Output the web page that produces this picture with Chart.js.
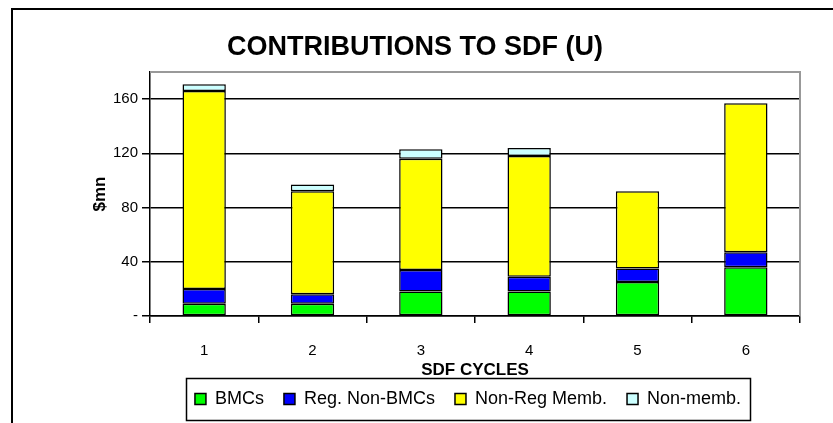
<!DOCTYPE html>
<html>
<head>
<meta charset="utf-8">
<script src="https://cdn.jsdelivr.net/npm/chart.js@4.4.0/dist/chart.umd.min.js"></script>
<style>
  html, body { margin: 0; padding: 0; background: #fff; }
  #wrap { position: relative; width: 833px; height: 423px; }
</style>
</head>
<body>
<div id="wrap"><canvas id="c" width="833" height="423"></canvas></div>
<script>
// ---- data ----
const cycles = ['1', '2', '3', '4', '5', '6'];
const bmcs = [9, 9, 18, 18, 25, 36];
const regNonBmcs = [11, 7, 16, 11, 10, 11];
const nonRegMemb = [146, 76, 82, 89, 57, 110];
const nonMemb = [5, 5, 7, 6, null, null];
const yTicks = [0, 40, 80, 120, 160, 180];

const FONT = "'Liberation Sans', Arial, sans-serif";
const LEGEND_FONT = 18;
const LEGEND_PAD = 20;

const framePlugin = {
  id: 'frame',
  afterLayout(chart) {
    const lg = chart.legend;
    if (lg) {
      lg.left = 168; lg.right = 768;
      lg.top = 399 - LEGEND_FONT / 2 - LEGEND_PAD;
    }
    const tb = chart.titleBlock;
    if (tb) { tb.left = 13; tb.right = 817; }
  },
  beforeDraw(chart) {
    const ctx = chart.ctx;
    ctx.save();
    ctx.fillStyle = '#fff';
    ctx.fillRect(0, 0, chart.width, chart.height);
    ctx.restore();
  },
  afterDraw(chart) {
    const ctx = chart.ctx;
    const a = chart.chartArea;
    ctx.save();
    // plot area border (grey top & right)
    ctx.strokeStyle = '#999';
    ctx.lineWidth = 2;
    ctx.beginPath();
    ctx.moveTo(a.left, a.top);
    ctx.lineTo(a.right, a.top);
    ctx.lineTo(a.right, a.bottom);
    ctx.stroke();
    // outer chart border
    ctx.strokeStyle = '#000';
    ctx.lineWidth = 2;
    ctx.beginPath();
    ctx.moveTo(12, 430);
    ctx.lineTo(12, 9);
    ctx.lineTo(840, 9);
    ctx.stroke();
    // legend frame
    const hb = chart.legend.legendHitBoxes;
    if (hb && hb.length) {
      const l = hb[0].left - 9;
      const last = hb[hb.length - 1];
      const r = last.left + last.width + 9;
      ctx.lineWidth = 1.5;
      ctx.strokeRect(Math.round(l) + 0.5, 378.5, Math.round(r - l), 42);
    }
    ctx.restore();
  }
};

new Chart(document.getElementById('c'), {
  type: 'bar',
  data: {
    labels: cycles,
    datasets: [
      { label: 'BMCs', data: bmcs, backgroundColor: '#00FF00' },
      { label: 'Reg. Non-BMCs', data: regNonBmcs, backgroundColor: '#0000FF' },
      { label: 'Non-Reg Memb.', data: nonRegMemb, backgroundColor: '#FFFF00' },
      { label: 'Non-memb.', data: nonMemb, backgroundColor: '#CCFFFF' }
    ].map(d => Object.assign(d, {
      borderColor: '#000', borderWidth: 1.5, borderSkipped: false,
      categoryPercentage: 0.4, barPercentage: 1
    }))
  },
  options: {
    responsive: false,
    animation: false,
    devicePixelRatio: 1,
    layout: { padding: { left: 13, right: 33, top: 0, bottom: 0 } },
    plugins: {
      tooltip: { enabled: false },
      title: {
        display: true,
        text: 'CONTRIBUTIONS TO SDF (U)',
        color: '#000',
        font: { family: FONT, size: 27, weight: 'bold', lineHeight: 1.2 },
        padding: { top: 31, bottom: 72 - 31 - 27 * 1.2 }
      },
      legend: {
        display: true,
        position: 'bottom',
        labels: {
          color: '#000',
          font: { family: FONT, size: LEGEND_FONT },
          boxWidth: 11, boxHeight: 11,
          padding: LEGEND_PAD
        }
      }
    },
    scales: {
      x: {
        stacked: true,
        afterFit(s) { s.height = 59; },
        border: { display: true, color: '#000', width: 1.5 },
        grid: { offset: true, drawOnChartArea: false, drawTicks: true, tickLength: 7, color: '#000', lineWidth: 1.5 },
        ticks: { color: '#000', font: { family: FONT, size: 15 }, padding: 19, maxRotation: 0 },
        title: {
          display: true, text: 'SDF CYCLES', color: '#000',
          font: { family: FONT, size: 17, weight: 'bold', lineHeight: 0.2 },
          padding: { top: 0, bottom: 3.3 }
        }
      },
      y: {
        stacked: true,
        min: 0, max: 180,
        afterFit(s) { s.width = 137; },
        afterBuildTicks(s) { s.ticks = yTicks.map(v => ({ value: v })); },
        border: { display: true, color: '#000', width: 1.5 },
        grid: {
          color: c => (c.tick && c.tick.value === 180) ? 'rgba(0,0,0,0)' : '#000',
          tickColor: c => (c.tick && c.tick.value === 180) ? 'rgba(0,0,0,0)' : '#000',
          lineWidth: 1.5, tickLength: 8, drawTicks: true
        },
        ticks: {
          color: '#000', font: { family: FONT, size: 15 }, padding: 4,
          callback: v => v === 0 ? '-' : (v === 180 ? '' : String(v))
        },
        title: {
          display: true, text: '$mn', color: '#000',
          font: { family: FONT, size: 17, weight: 'bold', lineHeight: 1.2 },
          padding: { top: 77, bottom: 0 }
        }
      }
    }
  },
  plugins: [framePlugin]
});
</script>
</body>
</html>
